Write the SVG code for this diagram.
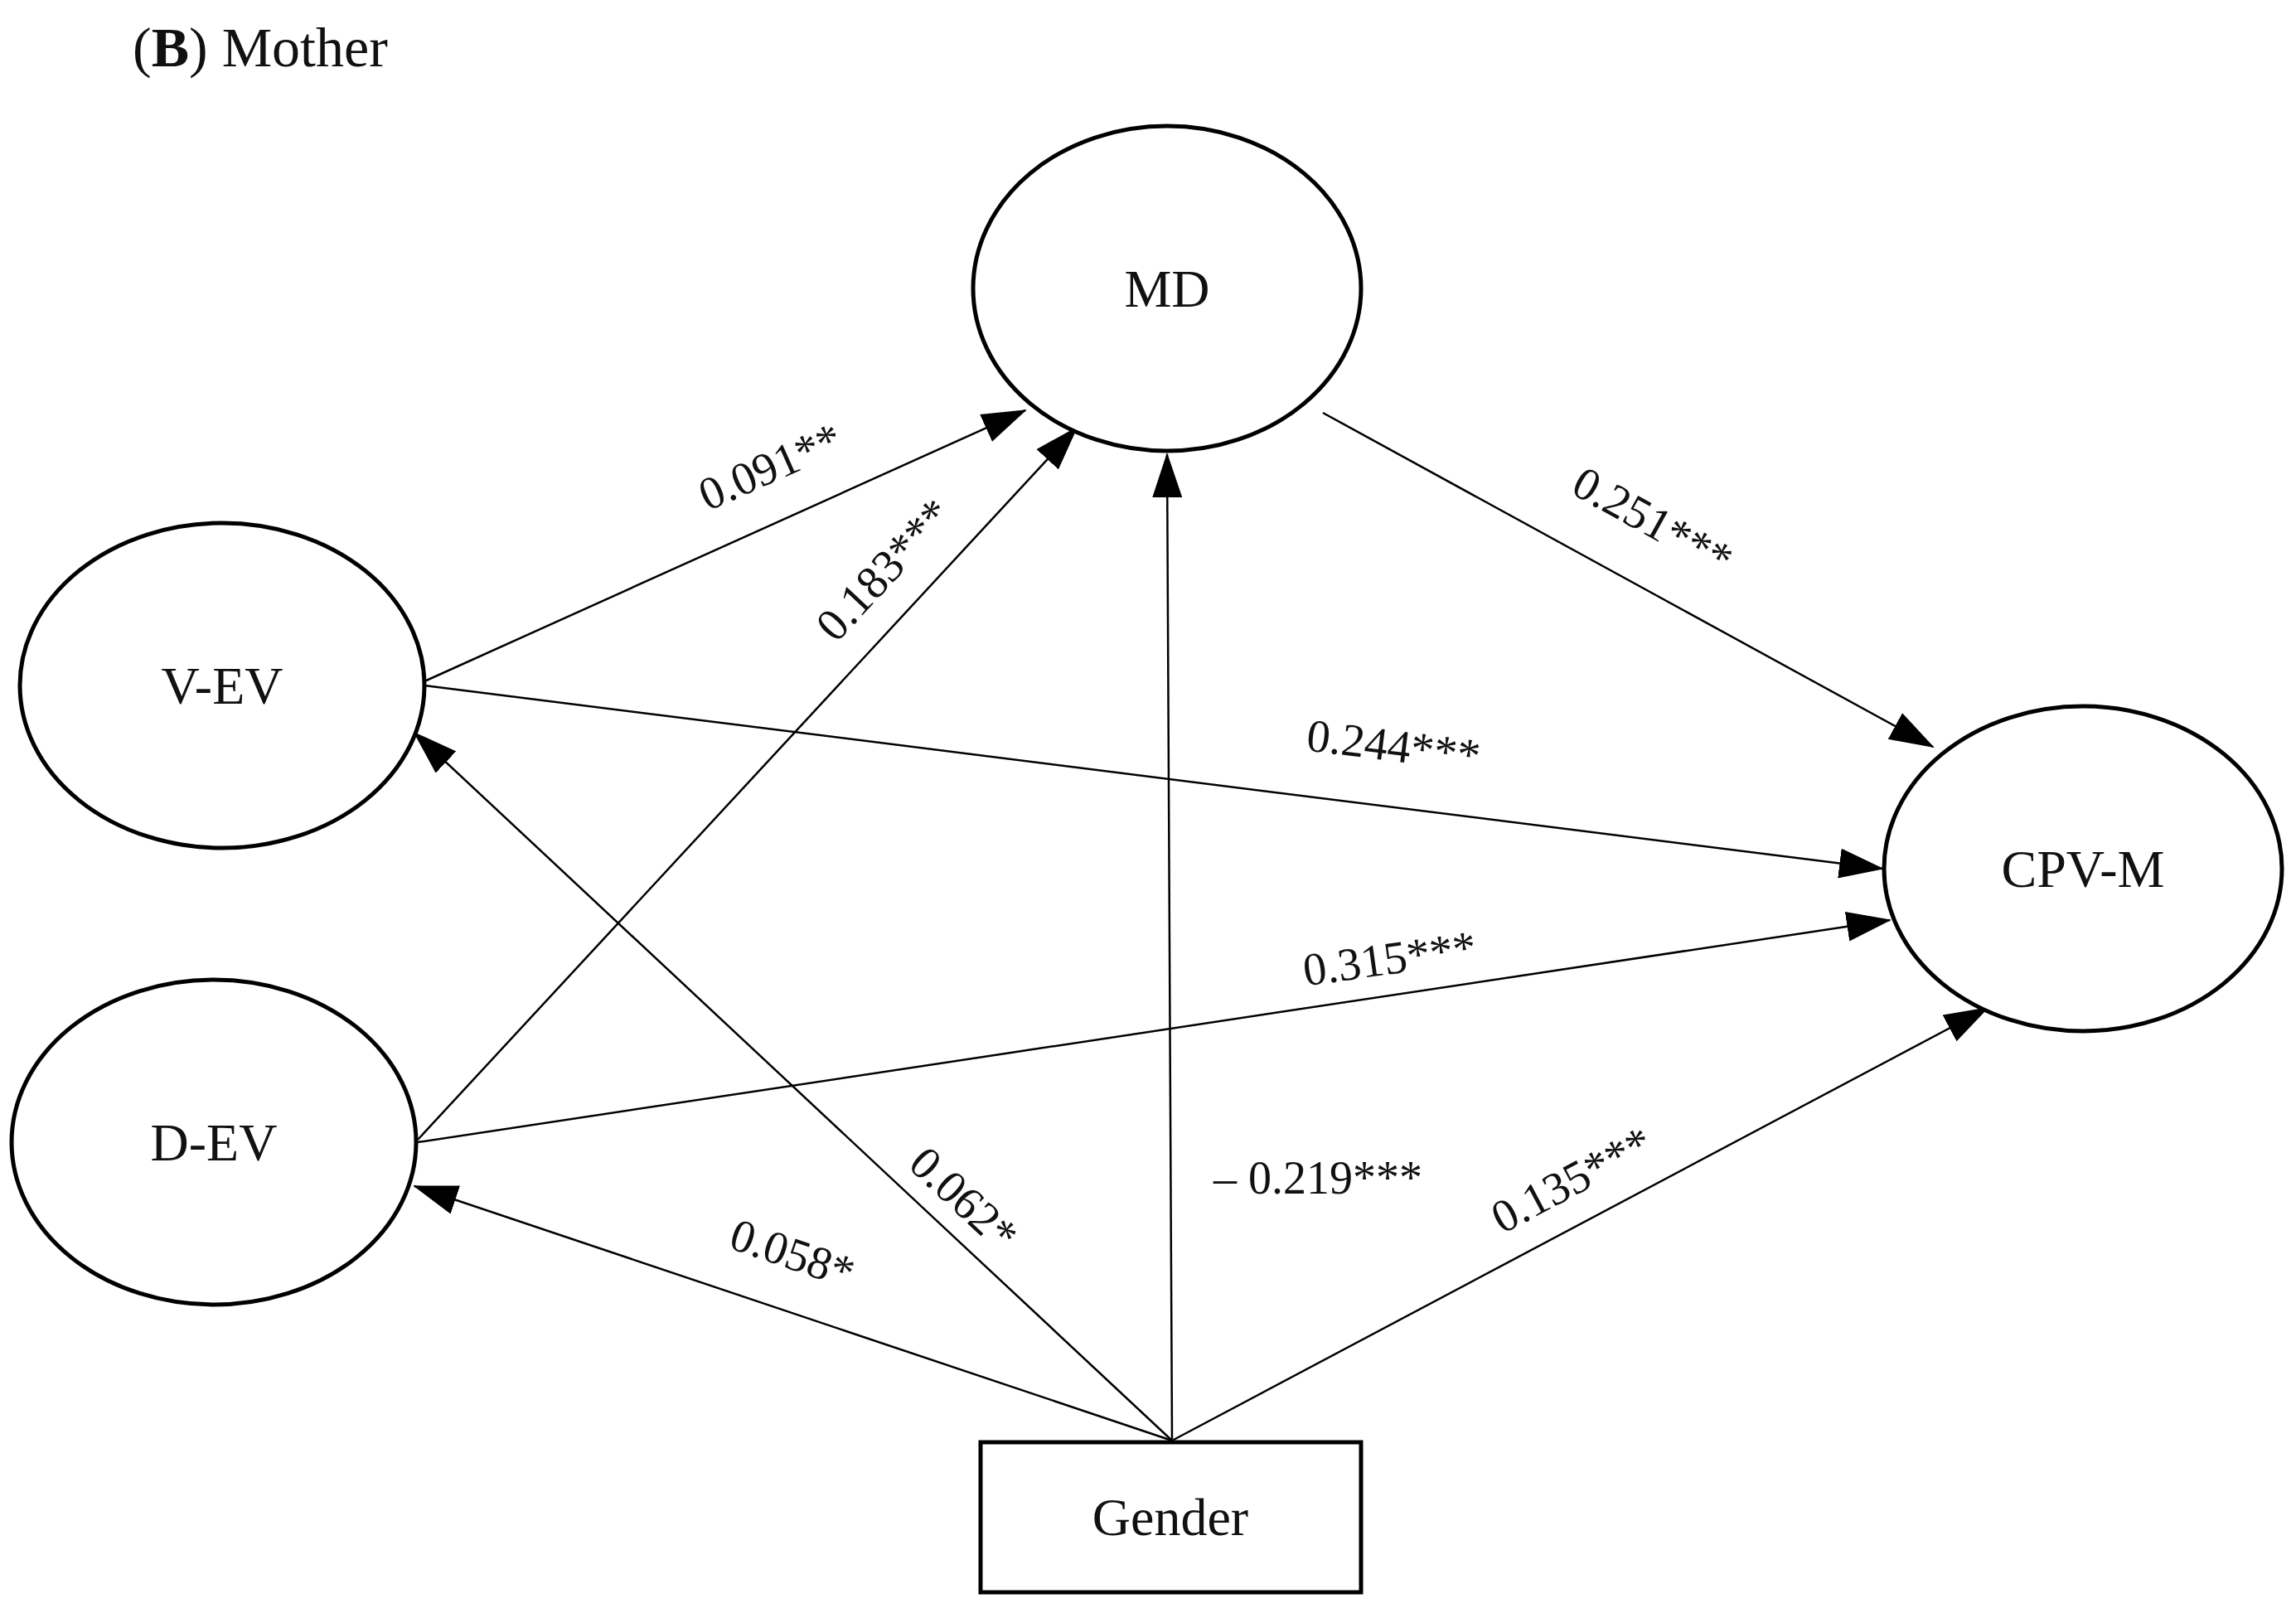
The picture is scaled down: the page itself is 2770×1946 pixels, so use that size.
<svg xmlns="http://www.w3.org/2000/svg" width="2770" height="1946" viewBox="0 0 2770 1946">
<style>
.n{fill:#fff;stroke:#000;stroke-width:5}
.t{font-family:"Liberation Serif",serif;font-size:64px;text-anchor:middle;fill:#111}
.e{stroke:#000;stroke-width:2.5;fill:none;marker-end:url(#ah)}
.l{font-family:"Liberation Serif",serif;font-size:56px;text-anchor:middle;fill:#111}
</style>
<defs>
<marker id="ah" markerUnits="userSpaceOnUse" markerWidth="54" markerHeight="36" refX="52" refY="18" orient="auto">
<path d="M0,0 L54,18 L0,36 Z" fill="#000"/>
</marker>
</defs>
<rect width="2770" height="1946" fill="#fff"/>
<text x="160" y="80" font-family="Liberation Serif,serif" font-size="68" fill="#111">(<tspan font-weight="bold">B</tspan>) Mother</text>
<g id="connectors">
<line class="e" x1="512" y1="822" x2="1237" y2="495"/>
<line class="e" x1="504" y1="1375" x2="1299" y2="516"/>
<line class="e" x1="1414" y1="1736" x2="1408" y2="548"/>
<line class="e" x1="1596" y1="498" x2="2332" y2="901"/>
<line class="e" x1="512" y1="827" x2="2271" y2="1048"/>
<line class="e" x1="504" y1="1378" x2="2280" y2="1110"/>
<line class="e" x1="1414" y1="1738" x2="2398" y2="1216"/>
<line class="e" x1="1414" y1="1738" x2="500" y2="884"/>
<line class="e" x1="1414" y1="1738" x2="500" y2="1431"/>
<text class="l" transform="translate(937,580) rotate(-24)">0.091**</text>
<text class="l" transform="translate(1080,700) rotate(-47)">0.183***</text>
<text class="l" transform="translate(1985,645) rotate(29)">0.251***</text>
<text class="l" transform="translate(1679,918) rotate(7)">0.244***</text>
<text class="l" transform="translate(1679,1175) rotate(-8)">0.315***</text>
<text class="l" transform="translate(1150,1460) rotate(43)">0.062*</text>
<text class="l" x="1590" y="1440">– 0.219***</text>
<text class="l" transform="translate(1905,1440) rotate(-28)">0.135***</text>
<text class="l" transform="translate(950,1530) rotate(19)">0.058*</text>
</g>
<g id="MD"><ellipse class="n" cx="1408" cy="348" rx="234" ry="196"/><text class="t" x="1408" y="370">MD</text></g>
<g id="V-EV"><ellipse class="n" cx="268" cy="827" rx="244" ry="196"/><text class="t" x="268" y="849">V-EV</text></g>
<g id="D-EV"><ellipse class="n" cx="258" cy="1378" rx="244" ry="196"/><text class="t" x="258" y="1400">D-EV</text></g>
<g id="CPV-M"><ellipse class="n" cx="2513" cy="1048" rx="240" ry="196"/><text class="t" x="2513" y="1070">CPV-M</text></g>
<g id="Gender"><rect class="n" x="1183" y="1740" width="459" height="181" stroke-width="6"/><text class="t" x="1412" y="1852">Gender</text></g>
</svg>
